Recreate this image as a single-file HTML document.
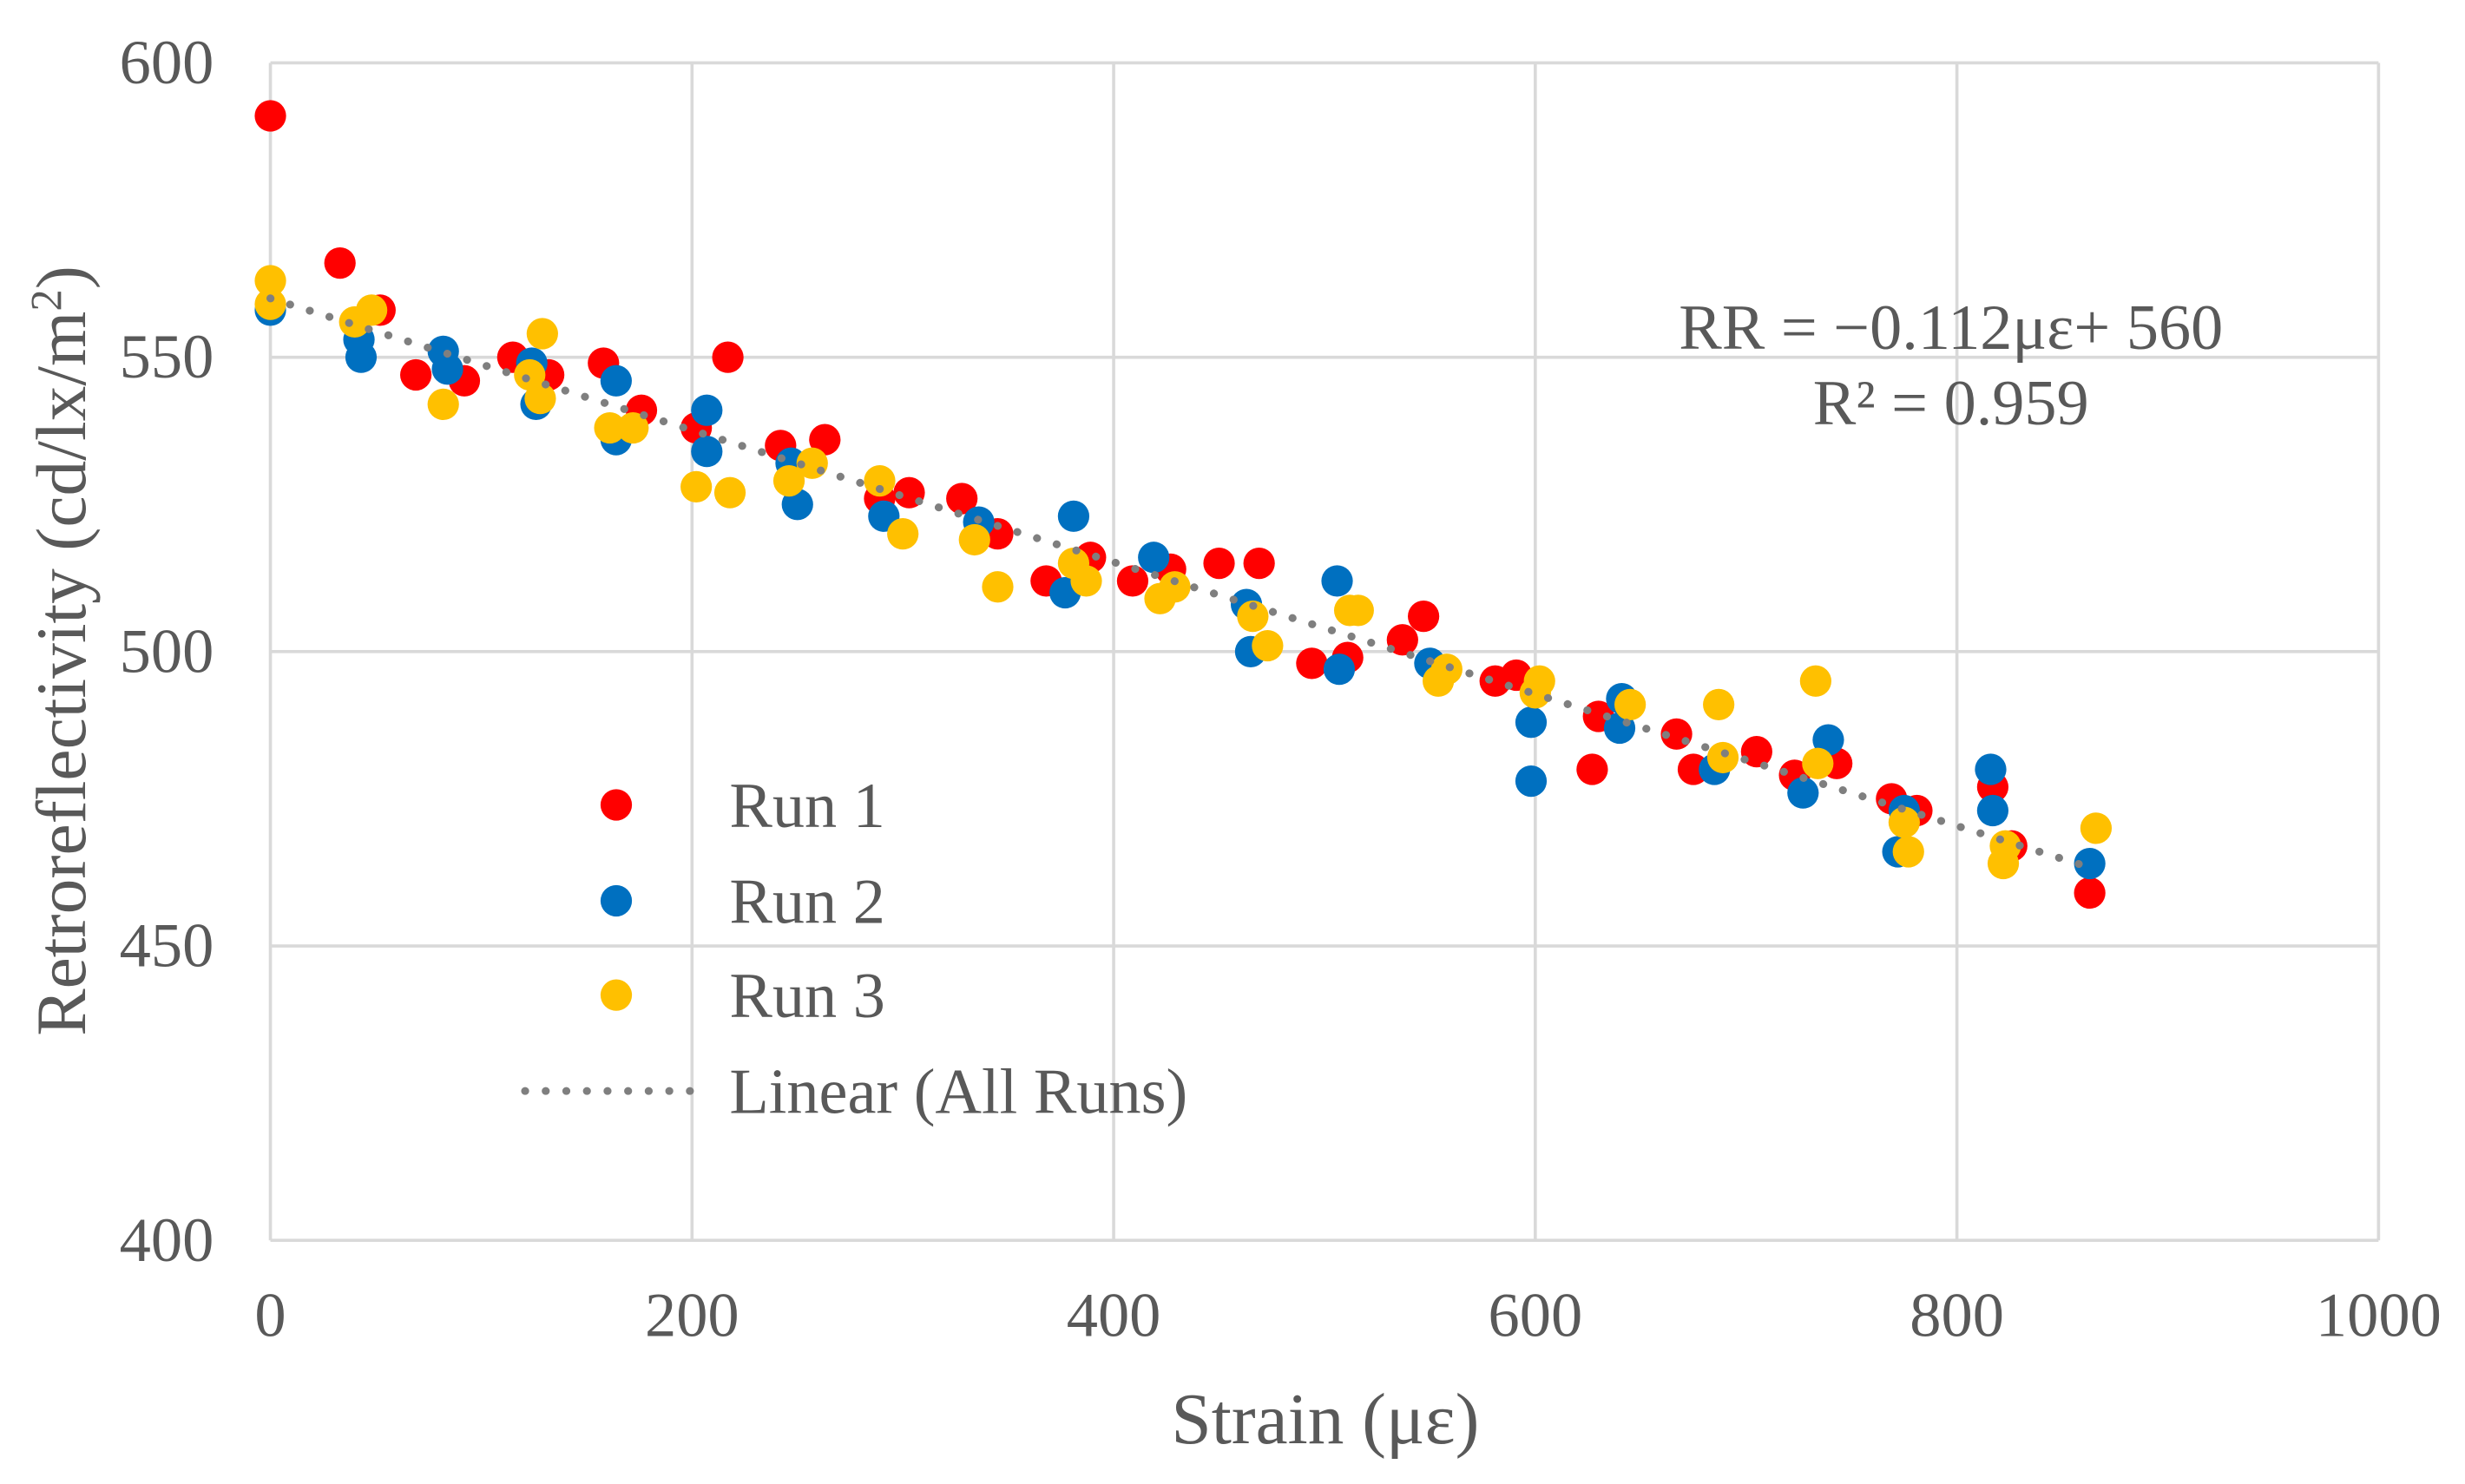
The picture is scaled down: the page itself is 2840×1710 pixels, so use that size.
<!DOCTYPE html>
<html><head><meta charset="utf-8"><style>
html,body{margin:0;padding:0;background:#fff;}
svg{display:block;}
text{font-family:"Liberation Serif",serif;fill:#595959;}
</style></head><body>
<svg id="chart" width="2840" height="1710" viewBox="0 0 1568 944" preserveAspectRatio="none" xmlns="http://www.w3.org/2000/svg">
<rect width="1568" height="944" fill="#fff"/>
<g id="grid"></g>
<g id="trend"></g>
<g id="points"></g>
<g id="ticks"></g>
<text transform="translate(54,414) rotate(-90)" text-anchor="middle" font-size="45">Retroreflectivity (cd/lx/m<tspan dy="-15" font-size="28">2</tspan><tspan dy="15">)</tspan></text>
<text x="843" y="918" text-anchor="middle" font-size="46">Strain (με)</text>
<text x="1241" y="222" text-anchor="middle" font-size="41">RR = −0.112με+ 560</text>
<text x="1241" y="270" text-anchor="middle" font-size="41">R² = 0.959</text>
<g>
<circle cx="392" cy="512" r="10" fill="#ff0000"/>
<text x="464" y="526" font-size="41">Run 1</text>
<circle cx="392" cy="573" r="10" fill="#0070c0"/>
<text x="464" y="587" font-size="41">Run 2</text>
<circle cx="392" cy="633" r="10" fill="#ffc000"/>
<text x="464" y="647" font-size="41">Run 3</text>
<line x1="334" y1="694" x2="450" y2="694" stroke="#7f7f7f" stroke-width="5" stroke-dasharray="0.1 13" stroke-linecap="round"/>
<text x="464" y="708" font-size="41">Linear (All Runs)</text>
</g>
</svg>
<script>
const xTicks = [0,200,400,600,800,1000];
const yTicks = [400,450,500,550,600];
const run1X = [0,33,52,69,92,115,132,158,176,202,217,242,263,289,303,328,345,368,389,409,427,450,469,494,511,537,547,581,591,627,630,667,675,705,723,743,769,781,817,826,863];
const run1Y = [591,566,558,547,546,550,547,549,541,538,550,535,536,526,527,526,520,512,516,512,514,515,515,498,499,502,506,495,496,480,489,486,480,483,479,481,475,473,477,467,459];
const run2X = [0,42,43,82,84,124,126,164,164,207,207,247,250,291,336,381,377,419,463,465,506,507,550,598,598,641,640,685,727,739,772,775,816,817,863];
const run2Y = [558,553,550,551,548,549,542,546,536,541,534,532,525,523,522,523,510,516,508,500,512,497,498,488,478,492,487,480,476,485,466,473,480,473,464];
const run3X = [0,0,40,48,82,129,123,128,161,172,202,218,246,257,289,300,334,345,381,387,422,429,466,473,512,516,554,558,602,600,645,687,689,733,734,775,777,823,822,866];
const run3Y = [563,559,556,558,542,554,547,543,538,538,528,527,529,532,529,520,519,511,515,512,509,511,506,501,507,507,495,497,495,493,491,491,482,495,481,471,466,467,464,470];
const trendSlope = -0.112;
const trendIntercept = 560;
const trendRange = [0,865];

const NS = "http://www.w3.org/2000/svg";
const X0=172, X1=1513, Y0=789, Y1=40;
function sx(v){return X0+(v-0)/(1000-0)*(X1-X0);}
function sy(v){return Y0-(v-400)/(600-400)*(Y0-Y1);}
function mk(tag, attrs, parent){const e=document.createElementNS(NS,tag);for(const k in attrs)e.setAttribute(k,attrs[k]);parent.appendChild(e);return e;}

const grid=document.getElementById('grid');
const ticks=document.getElementById('ticks');
xTicks.forEach(t=>{
  const l=mk('line',{x1:sx(t),x2:sx(t),y1:Y1,y2:Y0,stroke:'#d9d9d9','stroke-width':2},grid);
  
  
  const tx=mk('text',{x:sx(t),y:850,'text-anchor':'middle','font-size':40},ticks);
  tx.textContent=t;
  
  
});
yTicks.forEach(t=>{
  const l=mk('line',{x1:X0,x2:X1,y1:sy(t),y2:sy(t),stroke:'#d9d9d9','stroke-width':2},grid);
  
  
  const tx=mk('text',{x:136,y:sy(t)+13,'text-anchor':'end','font-size':40},ticks);
  tx.textContent=t;
  
  
});
const trend=document.getElementById('trend');
const tl=mk('line',{x1:sx(trendRange[0]),y1:sy(trendIntercept+trendSlope*trendRange[0]),x2:sx(trendRange[1]),y2:sy(trendIntercept+trendSlope*trendRange[1]),stroke:'#7f7f7f','stroke-width':5,'stroke-dasharray':'0.1 13','stroke-linecap':'round'},trend);



const pts=document.getElementById('points');
[[run1X,run1Y,'#ff0000','run-1-point'],[run2X,run2Y,'#0070c0','run-2-point'],[run3X,run3Y,'#ffc000','run-3-point']].forEach(s=>{
  s[0].forEach((x,i)=>{
    const c=mk('circle',{cx:sx(x),cy:sy(s[1][i]),r:10,fill:s[2]},pts);
    
    
  });
});
pts.parentNode.insertBefore(pts, trend);
</script>
</body></html>
